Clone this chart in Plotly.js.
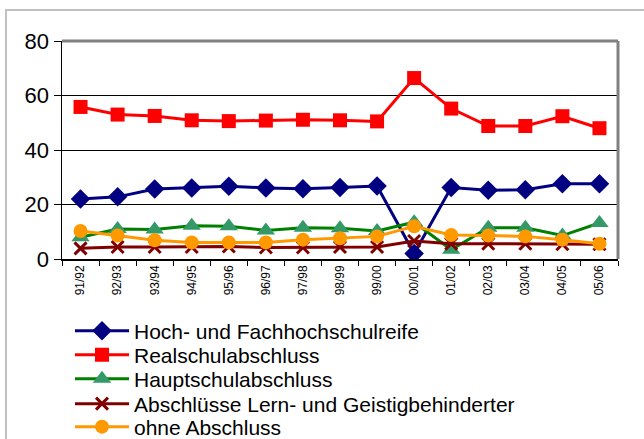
<!DOCTYPE html>
<html>
<head>
<meta charset="utf-8">
<script src="https://cdn.plot.ly/plotly-3.0.1.min.js"></script>
<style>
  body { margin: 0; background: #fff; }
  #chart { position: absolute; left: 0; top: 0; width: 644px; height: 439px; }
  #frame { position: absolute; left: 5px; top: 9px; width: 700px; height: 500px;
           border: 2px solid #c0c0c0; pointer-events: none; }
</style>
</head>
<body>
<div id="chart"></div>
<div id="frame"></div>
<script>
var jahre = ['91/92','92/93','93/94','94/95','95/96','96/97','97/98','98/99','99/00','00/01','01/02','02/03','03/04','04/05','05/06'];

var hochschulreife = [22.0, 22.8, 25.7, 26.1, 26.7, 26.1, 25.8, 26.2, 26.8, 2.0, 26.2, 25.2, 25.4, 27.6, 27.6];
var realschule     = [55.8, 53.0, 52.5, 50.9, 50.6, 50.8, 51.1, 50.9, 50.5, 66.4, 55.2, 48.8, 48.8, 52.4, 48.0];
var hauptschule    = [8.0, 11.0, 10.8, 12.2, 12.0, 10.5, 11.5, 11.3, 10.3, 13.5, 3.4, 11.5, 11.5, 8.6, 13.2];
var lernGeistig    = [3.9, 4.4, 4.4, 4.4, 4.6, 4.2, 4.2, 4.4, 4.4, 6.6, 5.6, 5.6, 5.6, 5.4, 5.4];
var ohneAbschluss  = [10.3, 8.6, 6.9, 6.1, 6.1, 6.1, 7.1, 7.6, 8.3, 12.0, 8.8, 8.6, 8.3, 7.1, 5.6];

// one legend per series, so the rows can sit as close as in the original
function serie(name, werte, linie, symbol, markerFarbe, groesse, legende) {
  return {
    type: 'scatter', mode: 'lines+markers', name: name, legend: legende,
    x: jahre, y: werte,
    line: { color: linie, width: 3 },
    marker: { symbol: symbol, color: markerFarbe, size: groesse,
              line: { color: markerFarbe, width: symbol == 'x-thin' ? 3 : 0 } },
    hoverinfo: 'none'
  };
}

var data = [
  serie('Hoch- und Fachhochschulreife', hochschulreife, '#000080', 'diamond', '#000080', 15, 'legend'),
  serie('Realschulabschluss', realschule, '#ff0000', 'square', '#ff0000', 14, 'legend2'),
  serie('Hauptschulabschluss', hauptschule, '#008000', 'triangle-up', '#339966', 16, 'legend3'),
  serie('Abschlüsse Lern- und Geistigbehinderter', lernGeistig, '#800000', 'x-thin', '#800000', 12, 'legend4'),
  serie('ohne Abschluss', ohneAbschluss, '#ff9900', 'circle', '#ff9900', 14, 'legend5')
];

function legende(mitte) {
  return {
    xref: 'container', yref: 'container',
    x: 70 / 644, xanchor: 'left', y: 1 - mitte / 439, yanchor: 'middle',
    font: { size: 21 }, itemwidth: 54,
    bgcolor: 'rgba(0,0,0,0)', borderwidth: 0
  };
}

var layout = {
  width: 644, height: 439,
  margin: { l: 62, r: 26, t: 41, b: 180, autoexpand: false },
  paper_bgcolor: 'rgba(0,0,0,0)',
  plot_bgcolor: '#fff',
  font: { family: 'Liberation Sans, Arial, sans-serif', color: '#000' },
  xaxis: {
    type: 'category', range: [-0.5, 14.5],
    showline: true, linecolor: '#000', linewidth: 1.5,
    ticks: 'outside', tickson: 'boundaries', ticklen: 5, tickcolor: '#000',
    tickangle: -90, tickfont: { size: 12 },
    showgrid: false
  },
  yaxis: {
    range: [0, 80], dtick: 20,
    showline: true, linecolor: '#000', linewidth: 1.5,
    ticks: 'outside', ticklen: 7, tickcolor: '#000',
    gridcolor: '#000', gridwidth: 1, zeroline: false,
    tickfont: { size: 22 }
  },
  shapes: [
    { type: 'line', xref: 'paper', yref: 'paper', x0: 0, x1: 1, y0: 1, y1: 1,
      line: { color: '#808080', width: 3 } },
    { type: 'line', xref: 'paper', yref: 'paper', x0: 1, x1: 1, y0: 0, y1: 1,
      line: { color: '#808080', width: 3 } }
  ],
  showlegend: true,
  legend: legende(331),
  legend2: legende(355),
  legend3: legende(379),
  legend4: legende(404),
  legend5: legende(427)
};

Plotly.newPlot('chart', data, layout, { displayModeBar: false, staticPlot: true });
</script>
</body>
</html>
